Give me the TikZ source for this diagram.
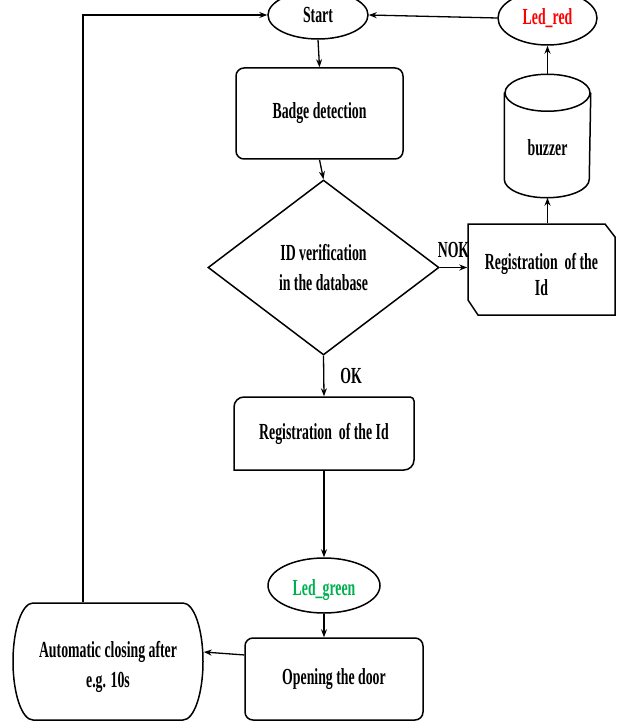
\documentclass[tikz,border=0pt]{standalone}
\usepackage{fontspec}
\setmainfont{Liberation Serif}[FakeStretch=0.6]
\usetikzlibrary{shapes.geometric,arrows.meta,calc}
\definecolor{ledred}{RGB}{255,0,0}
\definecolor{ledgreen}{RGB}{0,176,80}
\begin{document}
\begin{tikzpicture}[x=1pt,y=-1pt,
  font=\fontsize{23}{26}\selectfont\bfseries,
  line width=1.5pt,
  arr/.style={-{Stealth[length=8pt,width=6pt]}, line width=1.3pt},
  term/.style={ellipse, draw, inner sep=0pt},
  proc/.style={draw, rounded corners=8pt, inner sep=0pt},
  plain/.style={inner sep=0pt, align=center}]
\useasboundingbox (0,0) rectangle (617,722);

% terminals
\node[term, minimum width=100pt, minimum height=48pt] (start) at (318,15) {Start};
\node[term, minimum width=99pt, minimum height=54pt, text=ledred] (ledred) at (547.5,18) {Led\_red};

% badge detection
\node[proc, minimum width=167pt, minimum height=91pt] (badge) at (319.5,113.5) {Badge detection};

% decision
\node[diamond, draw, minimum width=231pt, minimum height=175pt, inner sep=0pt, align=center] (diam) at (323.5,267.5) {ID verification\\[4pt]in the database};

% registration (right, chamfered)
\node[plain, minimum width=147pt, minimum height=91pt,
  label={[plain, yshift=-5pt]center:{Registration\ \ of the\\Id}}] (regR) at (541.5,269.5) {};
\draw (468,224) -- (605,224) -- (615,237) -- (615,315) -- (478,315) -- (468,300) -- cycle;

% buzzer cylinder
\node[plain, minimum width=85pt, minimum height=122pt,
  label={[plain, yshift=-12pt]center:buzzer}] (buzz) at (547.5,136) {};
\draw ($(buzz.north)+(0,18.5)$) ellipse (42.5pt and 18.5pt);
\draw ([yshift=-18.5pt]buzz.north west) -- ([yshift=18.5pt]buzz.south west)
  arc[start angle=180, end angle=360, x radius=42.5pt, y radius=18.5pt]
  -- ([yshift=-18.5pt]buzz.north east);

% registration (bottom)
\node[plain, minimum width=180pt, minimum height=73pt] (reg) at (324,433.5) {Registration\ \ of the Id};
\draw (234,470) -- (234,407) arc[start angle=180, end angle=90, radius=10pt]
  -- (410,397) arc[start angle=90, end angle=0, radius=4pt]
  -- (414,460) arc[start angle=0, end angle=-90, radius=10pt] -- cycle;

% led green
\node[term, minimum width=112pt, minimum height=55pt,
  label={[plain, text=ledgreen, yshift=-5pt]center:Led\_green}] (lg) at (324,585.5) {};

% opening the door
\node[proc, minimum width=178pt, minimum height=82pt] (open) at (334,679) {Opening the door};

% automatic closing
\node[plain, minimum width=190pt, minimum height=117pt,
  label={[plain, yshift=-5.5pt]center:{Automatic closing after\\[4pt]e.g. 10s}}] (auto) at (108,661.5) {};
\draw (33,603) -- (183,603)
  arc[start angle=90, end angle=-90, x radius=20pt, y radius=58.5pt]
  -- (33,720)
  arc[start angle=270, end angle=90, x radius=20pt, y radius=58.5pt] -- cycle;

% connectors
\coordinate (ret) at (83,15);
\draw[arr] (start.south) -- (badge.north);
\draw[arr] (badge.south) -- (diam.north);
\draw[arr] (diam.east) -- node[above=9pt, inner sep=0pt] (nok) {NOK} (diam.east -| regR.west);
\draw[arr] (buzz.south |- regR.north) -- (buzz.south);
\draw[arr] (buzz.north) -- (buzz.north |- ledred.south);
\draw[arr] (ledred.west) -- (start.east);
\draw[arr] (diam.south) -- node[right=16pt, inner sep=0pt] (ok) {OK} (reg.north);
\draw[arr] (reg.south) -- (lg.north);
\draw[arr] (lg.south) -- (lg.south |- open.north);
\draw[arr] (open.165) -- ([yshift=9.5pt]auto.east);
\draw[arr] (auto.north -| ret) -- (ret) -- (start.west);
\end{tikzpicture}
\end{document}
